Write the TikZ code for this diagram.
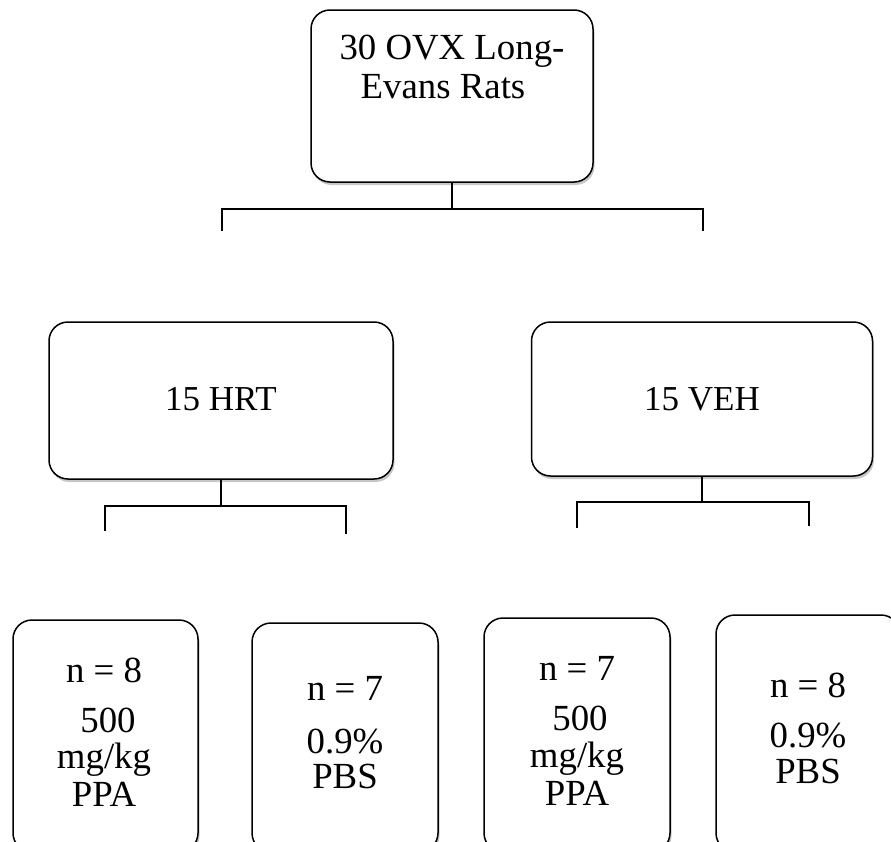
\documentclass[tikz,border=0pt]{standalone}
\usepackage{fontspec}
\setmainfont{Liberation Serif}
\usetikzlibrary{shadows}
\begin{document}
\begin{tikzpicture}[x=1pt,y=-1pt,
  box/.style={draw=black, line width=1.5pt, rounded corners=19pt, fill=white, inner sep=0pt,
    drop shadow={shadow xshift=1.5pt, shadow yshift=-3pt, opacity=0.22, fill=black}},
  txt/.style={font=\fontsize{35}{38}\selectfont, inner sep=0pt, anchor=base},
  bigtxt/.style={txt, font=\fontsize{36.8}{40}\selectfont},
  conn/.style={line width=1.8pt}]
\useasboundingbox (0,0) rectangle (891,841);
\clip (0,0) rectangle (891,841);
% boxes
\node[box, minimum width=282pt, minimum height=172pt] (top) at (452,96) {};
\node[box, minimum width=344pt, minimum height=157pt] (hrt) at (221,400.5) {};
\node[box, minimum width=341pt, minimum height=154pt] (veh) at (702,399) {};
\node[box, minimum width=185pt, minimum height=232pt] (b1) at (105.5,736) {};
\node[box, minimum width=186pt, minimum height=229pt] (b2) at (345,737.5) {};
\node[box, minimum width=186pt, minimum height=234pt] (b3) at (577,735) {};
\node[box, minimum width=184pt, minimum height=237pt] (b4) at (808,733.5) {};
% texts
\node[bigtxt] (t1) at (452,59) {30 OVX Long-};
\node[bigtxt] (t2) at (443,98) {Evans Rats};
\node[txt] (h1) at (221,410) {15 HRT};
\node[txt] (v1) at (702,410) {15 VEH};
\node[bigtxt] (b1a) at (104,682) {n = 8};
\node[bigtxt] (b1b) at (108,732) {500};
\node[bigtxt] (b1c) at (104,768) {mg/kg};
\node[bigtxt] (b1d) at (104,806) {PPA};
\node[bigtxt] (b2a) at (345,700) {n = 7};
\node[bigtxt] (b2b) at (345,753) {0.9\%};
\node[bigtxt] (b2c) at (345,788) {PBS};
\node[bigtxt] (b3a) at (577,680) {n = 7};
\node[bigtxt] (b3b) at (580,730) {500};
\node[bigtxt] (b3c) at (577,767) {mg/kg};
\node[bigtxt] (b3d) at (577,805) {PPA};
\node[bigtxt] (b4a) at (808,697) {n = 8};
\node[bigtxt] (b4b) at (808,747) {0.9\%};
\node[bigtxt] (b4c) at (808,783) {PBS};
% connectors
\coordinate (tL) at (222,231);
\coordinate (tR) at (703,231);
\draw[conn] (top.south) -- ++(0,26) coordinate (tJ);
\draw[conn] (tL) |- (tJ) -| (tR);
\coordinate (hL) at (105,531);
\coordinate (hR) at (346,534);
\draw[conn] (hrt.south) -- ++(0,26) coordinate (hJ);
\draw[conn] (hL) |- (hJ) -| (hR);
\coordinate (vL) at (577,528);
\coordinate (vR) at (809,526);
\draw[conn] (veh.south) -- ++(0,25) coordinate (vJ);
\draw[conn] (vL) |- (vJ) -| (vR);
\end{tikzpicture}
\end{document}
